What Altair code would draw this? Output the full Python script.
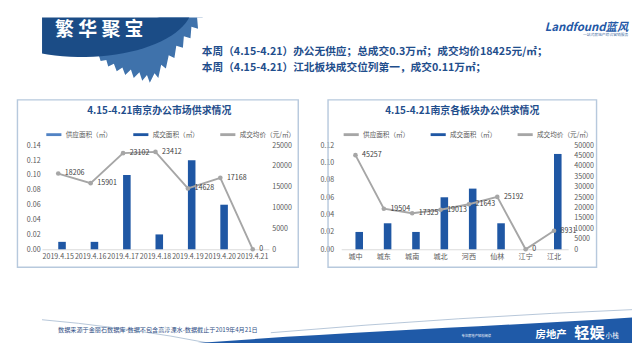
import math
import altair as alt
import pandas as pd

FONT = "Noto Sans CJK SC"
BLUE = "#1f57a4"
LIGHT_BLUE = "#5283c4"
GRAY = "#a6a6a6"
TXT = "#595959"
TITLE_BLUE = "#1f4e8c"

# ---------------- data ----------------
week_days = ["2019.4.15", "2019.4.16", "2019.4.17", "2019.4.18", "2019.4.19", "2019.4.20", "2019.4.21"]
week_supply = [0, 0, 0, 0, 0, 0, 0]
week_deal = [0.01, 0.01, 0.10, 0.02, 0.12, 0.06, 0.0]
week_price = [18206, 15901, 23102, 23412, 14628, 17168, 0]

districts = ["城中", "城东", "城南", "城北", "河西", "仙林", "江宁", "江北"]
dist_supply = [0, 0, 0, 0, 0, 0, 0, 0]
dist_deal = [0.02, 0.03, 0.02, 0.06, 0.07, 0.03, 0.0, 0.11]
dist_price = [45257, 19504, 17325, 19013, 21643, 25192, 0, 8931]

series_names = ["供应面积（㎡）", "成交面积（㎡）", "成交均价（元/㎡）"]

left_title = "4.15-4.21南京办公市场供求情况"
right_title = "4.15-4.21南京各板块办公供求情况"
header_title = "繁  华  聚  宝"
summary_1 = "本周（4.15-4.21）办公无供应；总成交0.3万㎡；成交均价18425元/㎡；"
summary_2 = "本周（4.15-4.21）江北板块成交位列第一，成交0.11万㎡；"
source_note = "数据来源于金丽石数据库-数据不包含高淳溧水-数据截止于2019年4月21日"

one = pd.DataFrame({"k": [0]})


def norm_path(points, cx, cy, half, close=True):
    parts = []
    for i, (X, Y) in enumerate(points):
        parts.append(("M" if i == 0 else "L") + f" {(X - cx) / half:.4f} {(Y - cy) / half:.4f}")
    return " ".join(parts) + (" Z" if close else "")


def deco_text(text, x, y, size, color, weight="normal", align="left", style="normal"):
    return alt.Chart(one).mark_text(
        text=text, font=FONT, fontSize=size, color=color, fontWeight=weight,
        align=align, baseline="middle", fontStyle=style,
    ).encode(x=alt.value(x), y=alt.value(y))


def panel(cats, supply, deal, price, ymax, ystep_vals, y2max, y2_vals, title, colors,
          title_x, legend_x, box_x0, box_x1, lpad_left, lpad_right, spacer_x0):
    W, H = 240, 110
    n = len(cats)
    bars_df = pd.DataFrame({
        "cat": list(cats) * 2,
        "series": [series_names[0]] * n + [series_names[1]] * n,
        "value": list(supply) + list(deal),
    })
    line_df = pd.DataFrame({"cat": cats, "price": price, "series": [series_names[2]] * n})

    x = alt.X("cat:N", sort=list(cats),
              scale=alt.Scale(domain=list(cats), paddingInner=0, paddingOuter=0),
              axis=alt.Axis(title=None, labelAngle=0, ticks=False, domainColor="#d9d9d9",
                            labelFont=FONT, labelFontSize=7.5, labelColor=TXT, labelPadding=4,
                            labelOverlap=False, labelLimit=200))
    color = alt.Color("series:N",
                      scale=alt.Scale(domain=series_names, range=colors),
                      legend=alt.Legend(title=None, orient="none", legendX=legend_x, legendY=-21,
                                        direction="horizontal", symbolType="stroke",
                                        symbolSize=256, symbolStrokeWidth=3,
                                        labelFont=FONT, labelFontSize=7, labelColor=TXT,
                                        columnPadding=16, padding=0, labelOffset=3))

    bars = alt.Chart(bars_df).mark_bar(size=8, xOffset=4).encode(
        x=x,
        y=alt.Y("value:Q", scale=alt.Scale(domain=[0, ymax], nice=False),
                axis=alt.Axis(orient="left", title=None, values=ystep_vals, format=".2f",
                              ticks=False, domain=False, grid=False, labelFont=FONT,
                              labelFontSize=7.5, labelColor=TXT, labelPadding=lpad_left)),
        color=color,
    )
    line_base = alt.Chart(line_df).encode(
        x=x,
        y=alt.Y("price:Q", scale=alt.Scale(domain=[0, y2max], nice=False),
                axis=alt.Axis(orient="right", title=None, values=y2_vals, format="d",
                              ticks=False, domain=False, grid=False, labelFont=FONT,
                              labelFontSize=7.5, labelColor=TXT, labelPadding=lpad_right,
                              labelAlign="left")),
    )
    line = line_base.mark_line(strokeWidth=2, point=alt.OverlayMarkDef(filled=True, size=24)).encode(
        color=color)
    labels = line_base.mark_text(align="left", dx=7, font=FONT, fontSize=7.5, color="#404040").encode(
        text=alt.Text("price:Q", format="d"))

    spacer = alt.Chart(one).mark_rect(opacity=0).encode(
        x=alt.value(spacer_x0), x2=alt.value(box_x0), y=alt.value(0), y2=alt.value(5))
    box = alt.Chart(one).mark_rect(filled=False, stroke="#b7c9dd", strokeWidth=1.5).encode(
        x=alt.value(box_x0), x2=alt.value(box_x1), y=alt.value(-48), y2=alt.value(H + 19))
    ttl = alt.Chart(one).mark_text(text=title, font=FONT, fontSize=10.5, fontWeight="bold",
                                   color=TITLE_BLUE, align="center", baseline="middle").encode(
        x=alt.value(title_x), y=alt.value(-36))

    return alt.layer(spacer, box, ttl, bars, alt.layer(line, labels)).resolve_scale(
        y="independent").properties(width=W, height=H)


left = panel(week_days, week_supply, week_deal, week_price, 0.14,
             [0, 0.02, 0.04, 0.06, 0.08, 0.10, 0.12, 0.14], 25000,
             [0, 5000, 10000, 15000, 20000, 25000], left_title,
             [LIGHT_BLUE, BLUE, GRAY], 124, 3, -26, 271, 2, 3, -36)
right = panel(districts, dist_supply, dist_deal, dist_price, 0.12,
              [0, 0.02, 0.04, 0.06, 0.08, 0.10, 0.12], 50000,
              [0, 5000, 10000, 15000, 20000, 25000, 30000, 35000, 40000, 45000, 50000], right_title,
              [GRAY, BLUE, GRAY], 128, 1, -14, 270, 8, 6, -14)

# ---------------- header ----------------
ell_pts = [(50 + 117 * math.cos(2 * math.pi * i / 90), -5 + 55 * math.sin(2 * math.pi * i / 90)) for i in range(90)]
ELLIPSE = norm_path(ell_pts, 50, -5, 120)
sil_pts = [(60, 46), (68, 48), (70, 54), (76, 53), (78, 60), (84, 57), (87, 65), (93, 61), (96, 69),
           (102, 63), (105, 72), (111, 66), (114, 75), (119, 69), (122, 77), (127, 67), (131, 72),
           (134, 58), (139, 62), (142, 48), (148, 51), (150, 38), (157, 40), (158, 28), (165, 30),
           (166, 18), (173, 20), (172, 8), (178, 8), (174, 0), (165, -5), (100, 20), (60, 40)]
SIL = norm_path(sil_pts, 115, 35, 70)

silhouette = alt.Chart(one).mark_point(shape=SIL, size=140 * 140, filled=True, color="#3f72ab",
                                       opacity=1, strokeWidth=0, clip=True).encode(
    x=alt.value(115 - 8), y=alt.value(35 - 8))
ellipse = alt.Chart(one).mark_point(shape=ELLIPSE, size=240 * 240, filled=True, color="#1b4c86",
                                    opacity=1, strokeWidth=0, clip=True).encode(
    x=alt.value(50 - 8), y=alt.value(-5 - 8))

header = alt.layer(
    silhouette, ellipse,
    deco_text(header_title, 60.5, 14, 20, "white", weight="bold", align="center"),
    deco_text(summary_1, 169, 37, 11.3, TITLE_BLUE, weight="bold"),
    deco_text(summary_2, 169, 54, 11.3, TITLE_BLUE, weight="bold"),
    deco_text("Landfound蓝风", 620, 10, 12, "#2458a6", weight="bold", align="right", style="italic"),
    deco_text("一站式房地产综合营销服务", 620, 19, 4, "#4a6fa5", align="right"),
).properties(width=624, height=80)

# ---------------- footer ----------------
wave_pts = "M {:.4f} {:.4f} C {:.4f} {:.4f} {:.4f} {:.4f} {:.4f} {:.4f} L {:.4f} {:.4f} L {:.4f} {:.4f} Z"
cx, cy, hf = 320, 320, 320
def nx(v): return (v - cx) / hf
def ny(v): return (v - cy) / hf
WAVE = wave_pts.format(nx(120), ny(356), nx(300), ny(341), nx(480), ny(335), nx(645), ny(324),
                       nx(645), ny(380), nx(120), ny(380))
LINE1 = "M {:.4f} {:.4f} Q {:.4f} {:.4f} {:.4f} {:.4f}".format(nx(-5), ny(326), nx(100), ny(335), nx(190), ny(353))
LINE2 = "M {:.4f} {:.4f} Q {:.4f} {:.4f} {:.4f} {:.4f}".format(nx(250), ny(341), nx(450), ny(324), nx(645), ny(316))

FY = 279
wave = alt.Chart(one).mark_point(shape=WAVE, size=640 * 640, filled=True, color="#1f5aa8", opacity=1,
                                 strokeWidth=0, clip=True).encode(x=alt.value(cx - 8), y=alt.value(cy - FY))
thin1 = alt.Chart(one).mark_point(shape=LINE1, size=640 * 640, filled=False, stroke="#9fb4cc", opacity=1,
                                  strokeWidth=0.8, clip=True).encode(x=alt.value(cx - 8), y=alt.value(cy - FY))
thin2 = alt.Chart(one).mark_point(shape=LINE2, size=640 * 640, filled=False, stroke="#9fb4cc", opacity=1,
                                  strokeWidth=0.8, clip=True).encode(x=alt.value(cx - 8), y=alt.value(cy - FY))

footer = alt.layer(
    thin1, thin2, wave,
    deco_text(source_note, 25 - 8, 338 - FY, 6.5, "#2f4f86"),
    deco_text("房地产", 530 - 8, 344 - FY, 11, "white", weight="bold"),
    deco_text("轻娱", 571 - 8, 342 - FY, 16, "white", weight="bold"),
    deco_text("小栈", 604 - 8, 345 - FY, 7, "white"),
    deco_text("专注房地产轻松阅读", 483 - 8, 345 - FY, 3.5, "white", align="right"),
).properties(width=624, height=73)

chart = alt.vconcat(
    header,
    alt.hconcat(left, right, spacing=21.5).resolve_scale(color="independent"),
    footer,
    spacing=6.25,
).resolve_scale(color="independent").properties(padding=0, background="white").configure_view(stroke=None)

chart.save("out.html", embed_options={"renderer": "svg", "actions": False})
